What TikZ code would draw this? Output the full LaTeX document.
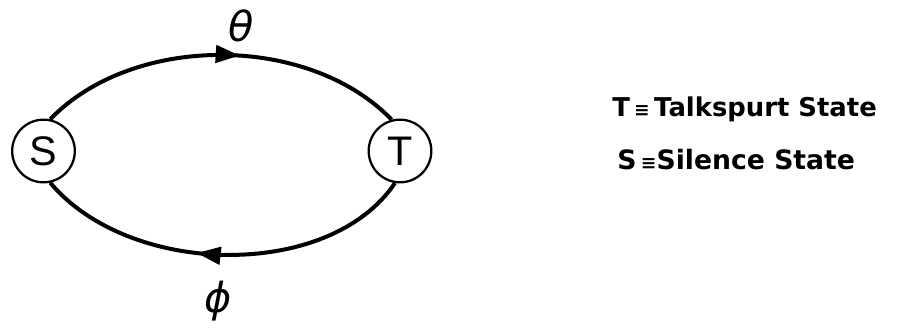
\documentclass[tikz,border=0pt]{standalone}
\usepackage{fontspec}
\setmainfont{Liberation Sans}
\newfontfamily\dejavu{DejaVu Sans}
\usetikzlibrary{decorations.markings,arrows.meta}
\begin{document}
\begin{tikzpicture}[x=0.75pt,y=-0.75pt,
  state/.style={circle,draw,line width=1.7pt,minimum size=47pt,inner sep=0pt,
    font=\fontsize{31}{32}\selectfont},
  arc/.style={line width=3pt},
  lbl/.style={font=\dejavu\itshape\fontsize{31}{34}\selectfont,inner sep=0pt},
  legend/.style={anchor=base west,inner sep=0pt,font=\dejavu\bfseries\fontsize{20}{24}\selectfont}]
\useasboundingbox (0,0) rectangle (908,328);
\node[state] (S) at (43.5,151) {S};
\node[state] (T) at (400,151) {T};
\draw[arc, postaction={decorate}, decoration={markings,
  mark=at position 0.55 with {\arrow{Triangle[length=18pt,width=13pt]}}}]
  (S.78) .. controls +(83,-86) and +(-83,-86) .. (T.105);
\draw[arc, postaction={decorate}, decoration={markings,
  mark=at position 0.57 with {\arrow{Triangle[length=18pt,width=13pt]}}}]
  (T.-99) .. controls +(-65,97) and +(80,95) .. (S.-78);
\node[lbl] (th) at (241,26) {θ};
\node[lbl] (ph) at (218,301) {ϕ};
\node[legend,font=\dejavu\bfseries\fontsize{19.4}{24}\selectfont] (l1) at (612,117) {T\,{\fontsize{14}{16}\selectfont ≡}\,Talkspurt State};
\node[legend] (l2) at (617,170) {S\,{\fontsize{14}{16}\selectfont ≡}Silence State};
\end{tikzpicture}
\end{document}
